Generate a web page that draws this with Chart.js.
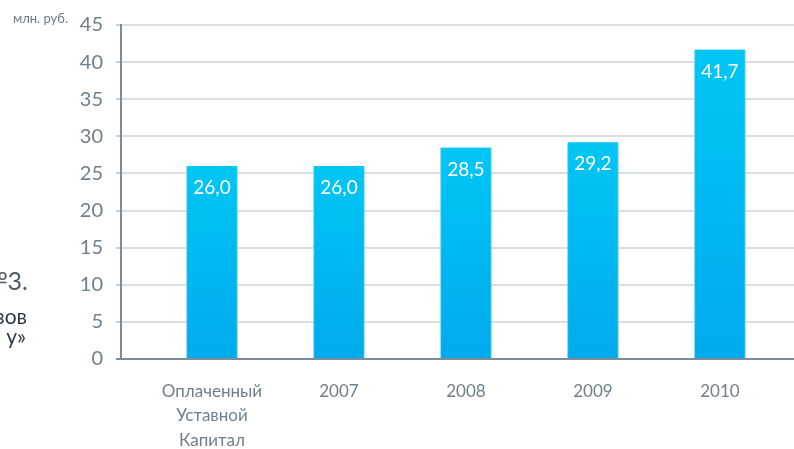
<!DOCTYPE html>
<html>
<head>
<meta charset="utf-8">
<script src="https://cdn.jsdelivr.net/npm/chart.js@4/dist/chart.umd.min.js"></script>
<style>
  html, body { margin: 0; padding: 0; background: #ffffff; }
  #wrap { position: relative; width: 794px; height: 449px; overflow: hidden; font-family: Lato, "Open Sans", sans-serif; }
  canvas { position: absolute; left: 0; top: 0; }
  .t { position: absolute; white-space: nowrap; line-height: 1; }
</style>
</head>
<body>
<div id="wrap">
  <canvas id="c" width="794" height="449"></canvas>
  <div class="t" style="left:13px; top:12px; font-size:13px; color:#6c7b86;">млн. руб.</div>
  <div class="t" style="right:766px; top:268px; font-size:25px; color:#4f5b66; text-align:right;">№3.</div>
  <div class="t" style="right:767px; top:305px; font-size:21px; color:#2e3943; text-align:right;">зов</div>
  <div class="t" style="right:768px; top:325px; font-size:21px; color:#2e3943; text-align:right;">у»</div>
</div>
<script>
const categories = [["Оплаченный", "Уставной", "Капитал"], "2007", "2008", "2009", "2010"];
const values = [26.0, 26.0, 28.5, 29.2, 41.7];
const yTicks = [0, 5, 10, 15, 20, 25, 30, 35, 40, 45];

const fmt = v => v.toFixed(1).replace('.', ',');

const barLabels = {
  id: 'barLabels',
  afterDatasetsDraw(chart) {
    const ctx = chart.ctx;
    const meta = chart.getDatasetMeta(0);
    ctx.save();
    ctx.font = '19px Lato, "Open Sans", sans-serif';
    ctx.fillStyle = '#ffffff';
    ctx.textAlign = 'center';
    ctx.textBaseline = 'middle';
    meta.data.forEach((bar, i) => {
      ctx.fillText(fmt(values[i]), bar.x, bar.y + 22);
    });
    ctx.restore();
  }
};

new Chart(document.getElementById('c'), {
  type: 'bar',
  data: {
    labels: categories,
    datasets: [{
      data: values,
      barThickness: 51,
      backgroundColor: (c) => {
        const chart = c.chart;
        const sc = chart.scales && chart.scales.y;
        if (!chart.chartArea || !sc || c.raw === undefined) return '#00b6f0';
        const yTop = sc.getPixelForValue(c.raw);
        const yBot = sc.getPixelForValue(0);
        const g = chart.ctx.createLinearGradient(0, yTop, 0, yBot);
        g.addColorStop(0, '#00c6f4');
        g.addColorStop(1, '#00aaed');
        return g;
      },
      borderColor: '#6fd6f6',
      borderWidth: {left: 1, right: 1, top: 0, bottom: 0},
      borderSkipped: false
    }]
  },
  options: {
    responsive: false,
    animation: false,
    devicePixelRatio: 1,
    layout: { padding: { top: 24, right: 0, left: 0, bottom: 0 } },
    plugins: { legend: { display: false }, tooltip: { enabled: false } },
    scales: {
      x: {
        type: 'category',
        z: 1,
        offset: true,
        afterBuildTicks: (axis) => { axis._startValue = -0.7165; axis._valueRange = 5.3; },
        afterFit: (axis) => { axis.height = 90; },
        grid: { display: false, drawTicks: false },
        border: { display: true, color: '#7d8c96', width: 2 },
        ticks: {
          color: '#6f808b',
          padding: 20,
          maxRotation: 0,
          autoSkip: false,
          font: { family: 'Lato, "Open Sans", sans-serif', size: 17, lineHeight: 1.44 }
        }
      },
      y: {
        min: 0,
        max: 45,
        afterFit: (axis) => { axis.width = 121; },
        afterBuildTicks: (axis) => { axis.ticks = yTicks.map(v => ({ value: v })); },
        grid: {
          color: (c) => c.tick && c.tick.value === 0 ? '#7d8c96' : '#d9dde0',
          lineWidth: 2,
          drawTicks: true,
          tickLength: 5,
          tickColor: (c) => c.tick && c.tick.value === 0 ? '#7d8c96' : '#c9cfd3'
        },
        border: { display: true, color: '#7d8c96', width: 2 },
        ticks: {
          color: '#6f808b',
          padding: 13,
          font: { family: 'Lato, "Open Sans", sans-serif', size: 20 }
        }
      }
    }
  },
  plugins: [barLabels]
});
</script>
</body>
</html>
